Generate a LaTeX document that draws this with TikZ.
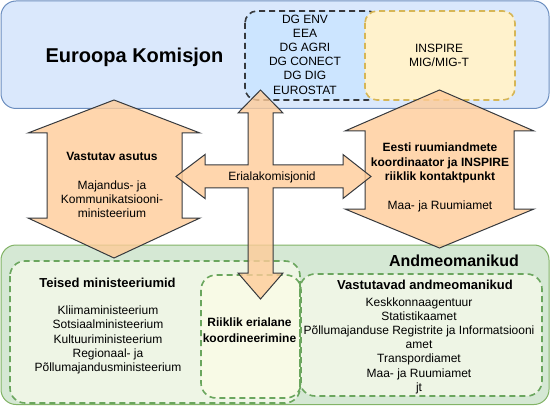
\documentclass[tikz,border=0pt]{standalone}
\usepackage{fontspec}
\setmainfont{Liberation Sans}
\definecolor{bluefill}{HTML}{DAE8FC}
\definecolor{blueline}{HTML}{6C8EBF}
\definecolor{dgfill}{HTML}{CCE5FF}
\definecolor{darkline}{HTML}{36393D}
\definecolor{insfill}{HTML}{FFF2CC}
\definecolor{insline}{HTML}{D6B656}
\definecolor{greenfill}{HTML}{D5E8D4}
\definecolor{greenline}{HTML}{82B366}
\definecolor{dashgreen}{HTML}{6BA65E}
\definecolor{innerfill}{HTML}{EEF5E5}
\definecolor{midfill}{HTML}{F8FAE6}
\definecolor{arrfill}{HTML}{FFCC99}
\begin{document}
\begin{tikzpicture}[x=1pt,y=-1pt,
  bigbox/.style={rounded corners=15pt, line width=1pt},
  dashbox/.style={rounded corners=12pt, line width=1.6pt, dash pattern=on 6pt off 4pt},
  arr/.style={fill=arrfill, fill opacity=0.8, draw=darkline, line width=1pt, line join=miter},
  txt/.style={inner sep=0pt, align=center, font=\fontsize{12}{14.2}\selectfont},
  btxt/.style={inner sep=0pt, align=center, font=\fontsize{12}{14.2}\selectfont\bfseries}
]
\useasboundingbox (0,0) rectangle (551,406);
% top box
\draw[bigbox, fill=bluefill, draw=blueline] (1,1) rectangle (549,108.5);
\draw[dashbox, fill=dgfill, draw=darkline] (245,11) rectangle (380,100);
\draw[dashbox, fill=insfill, draw=insline] (365,11) rectangle (515,100);
% bottom box
\draw[bigbox, fill=greenfill, draw=greenline] (1,245) rectangle (549,404.5);
\fill[innerfill, rounded corners=15pt] (10,261) rectangle (300,403);
\fill[innerfill, rounded corners=15pt] (300,274) rectangle (542,396);
\fill[midfill, rounded corners=15pt] (201,275) rectangle (301,398);
\draw[dashbox, rounded corners=15pt, draw=dashgreen] (10,261) rectangle (300,403);
\draw[dashbox, rounded corners=15pt, draw=dashgreen] (300,274) rectangle (542,396);
\draw[dashbox, rounded corners=15pt, draw=dashgreen] (201,275) rectangle (301,398);
% arrows
\path[arr] (114,100) -- (200,133) -- (182,133) -- (182,218) -- (200,218) -- (114,258)
  -- (28,218) -- (47,218) -- (47,133) -- (28,133) -- cycle;
\path[arr] (439.5,90) -- (534,131) -- (514,131) -- (514,209) -- (534,209) -- (439.5,248)
  -- (345,209) -- (365,209) -- (365,131) -- (345,131) -- cycle;
\path[arr] (260.5,90) -- (283,113) -- (273,113) -- (273,165) -- (343,165) -- (343,154.5)
  -- (371,176.5) -- (343,198.5) -- (343,188) -- (273,188) -- (273,273) -- (283,273)
  -- (260.5,299) -- (238,273) -- (248,273) -- (248,188) -- (205,188) -- (205,198.5)
  -- (176,176.5) -- (205,154.5) -- (205,165) -- (248,165) -- (248,113) -- (238,113) -- cycle;
% texts
\node[inner sep=0pt, font=\fontsize{20}{24}\selectfont\bfseries] (ek) at (134.5,57) {Euroopa Komisjon};
\node[txt] (dg) at (305,54.5) {DG ENV\\EEA\\DG AGRI\\DG CONECT\\DG DIG\\EUROSTAT};
\node[txt] (ins) at (439,55.5) {INSPIRE\\MIG/MIG-T};
\node[txt] (va) at (112,185) {\textbf{Vastutav asutus}\\[14.2pt]Majandus- ja\\Kommunikatsiooni-\\ministeerium};
\node[btxt] (ee) at (440,163) {Eesti ruumiandmete\\koordinaator ja INSPIRE\\riiklik kontaktpunkt};
\node[txt] (mr) at (440,206) {Maa- ja Ruumiamet};
\node[txt] (ek2) at (272,177) {Erialakomisjonid};
\node[inner sep=0pt, font=\fontsize{16}{19}\selectfont\bfseries] (am) at (454,260.7) {Andmeomanikud};
\node[inner sep=0pt, font=\fontsize{13}{15}\selectfont\bfseries] (tm) at (107.5,282.7) {Teised ministeeriumid};
\node[txt] (tl) at (108,340) {Kliimaministeerium\\Sotsiaalministeerium\\Kultuuriministeerium\\Regionaal- ja\\Põllumajandusministeerium};
\node[btxt, font=\fontsize{12}{15.5}\selectfont\bfseries] (rk) at (249.5,330.3) {Riiklik erialane\\koordineerimine};
\node[inner sep=0pt, font=\fontsize{13}{15}\selectfont\bfseries] (vam) at (425,285) {Vastutavad andmeomanikud};
\node[txt] (vl) at (419,345.5) {Keskkonnaagentuur\\Statistikaamet\\Põllumajanduse Registrite ja Informatsiooni\\amet\\Transpordiamet\\Maa- ja Ruumiamet\\jt};
\end{tikzpicture}
\end{document}
